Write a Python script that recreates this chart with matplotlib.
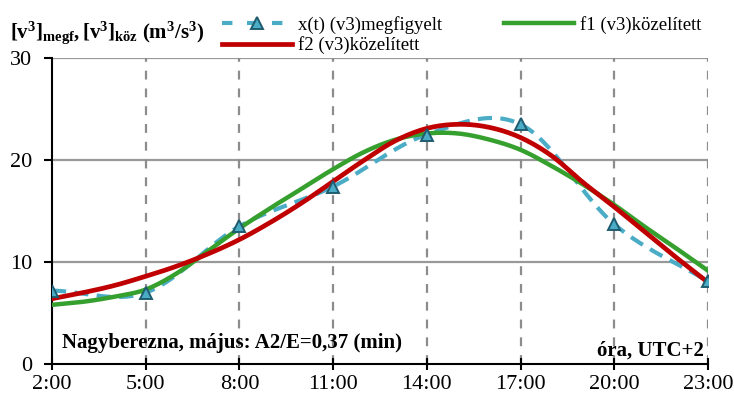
import numpy as np
import matplotlib
matplotlib.use("Agg")
import matplotlib.pyplot as plt

# adatok
ora_megf = [2, 5, 8, 11, 14, 17, 20, 23]
x_megf = [7.2, 7.0, 13.5, 17.4, 22.5, 23.5, 13.7, 8.1]

ora = list(range(2, 24))
f1 = [5.8, 6.1, 6.6, 7.3, 8.9, 11.1, 13.3, 15.3, 17.2, 19.1, 20.8, 22.0,
      22.6, 22.6, 22.0, 21.0, 19.4, 17.6, 15.6, 13.4, 11.3, 9.15]
f2 = [6.4, 7.0, 7.7, 8.6, 9.6, 10.8, 12.2, 13.9, 15.8, 17.9, 20.0, 21.9,
      23.1, 23.5, 23.2, 22.2, 20.4, 17.8, 15.4, 12.9, 10.4, 8.0]

tick_ora = [2, 5, 8, 11, 14, 17, 20, 23]
tick_cimke = ["2:00", "5:00", "8:00", "11:00", "14:00", "17:00", "20:00", "23:00"]


def simit(x, y, n=30):
    # Catmull-Rom gorbe, mint az Excel "simított vonal"
    x = np.asarray(x, float)
    y = np.asarray(y, float)
    px = np.concatenate([[2 * x[0] - x[1]], x, [2 * x[-1] - x[-2]]])
    py = np.concatenate([[2 * y[0] - y[1]], y, [2 * y[-1] - y[-2]]])
    xs, ys = [], []
    t = np.linspace(0, 1, n, endpoint=False)
    for i in range(1, len(px) - 2):
        for p, out in ((px, xs), (py, ys)):
            p0, p1, p2, p3 = p[i - 1], p[i], p[i + 1], p[i + 2]
            out.extend(0.5 * ((2 * p1) + (-p0 + p2) * t
                              + (2 * p0 - 5 * p1 + 4 * p2 - p3) * t ** 2
                              + (-p0 + 3 * p1 - 3 * p2 + p3) * t ** 3))
    xs.append(x[-1])
    ys.append(y[-1])
    return np.array(xs), np.array(ys)


plt.rcParams['font.family'] = ['Liberation Serif', 'DejaVu Serif']
plt.rcParams['mathtext.fontset'] = 'custom'
plt.rcParams['mathtext.rm'] = 'Liberation Serif'
plt.rcParams['mathtext.it'] = 'Liberation Serif:italic'
plt.rcParams['mathtext.bf'] = 'Liberation Serif:bold'

fig = plt.figure(figsize=(7.34, 3.96), dpi=100)
ax = fig.add_axes([0.0708, 0.0808, 0.8938, 0.7727])

kek = '#4BACC6'
piros = '#C00000'
zold = '#36A02F'

sx, sy = simit(ora_megf, x_megf)
ax.plot(sx, sy, color=kek, lw=3, dashes=(3.4, 2.0), zorder=3)
ax.plot(ora_megf, x_megf, ls='none', marker='^', ms=8, mfc=kek,
        mec='#1F5C70', mew=1.4, zorder=4)
h_x, = ax.plot([], [], color=kek, lw=3, dashes=(2.5, 3.5), marker='^', ms=8,
               mfc=kek, mec='#1F5C70', mew=1.4)
gx, gy = simit(ora, f1, 10)
h_f1, = ax.plot(gx, gy, color=zold, lw=3.2, zorder=3)
rx, ry = simit(ora, f2, 10)
h_f2, = ax.plot(rx, ry, color=piros, lw=3.4, zorder=3)

ax.set_xlim(2, 23)
ax.set_ylim(0, 30)
ax.set_xticks(tick_ora)
ax.set_xticklabels(tick_cimke)
ax.set_yticks([0, 10, 20, 30])
for v in [10, 20, 30]:
    ax.axhline(v, color='#999999', lw=1.6, zorder=1)
for t in tick_ora[1:]:
    ax.axvline(t, color='#8c8c8c', lw=1.6, dashes=(4, 4), zorder=1)

for s in ['top', 'right']:
    ax.spines[s].set_visible(False)
ax.spines['left'].set_linewidth(1.5)
ax.spines['bottom'].set_linewidth(1.5)
ax.tick_params(axis='y', direction='out', length=6, width=1.5, labelsize=16, pad=8)
ax.tick_params(axis='x', direction='inout', length=8, width=1.5, labelsize=16, pad=4)

ax.text(0.015, 0.035, "Nagyberezna, május: A2/E=0,37 (min)", transform=ax.transAxes,
        fontsize=15, fontweight='bold', ha='left', va='bottom')
ax.text(0.993, 0.012, "óra, UTC+2", transform=ax.transAxes,
        fontsize=15, fontweight='bold', ha='right', va='bottom')

fig.text(0.014, 0.918, r'$\mathbf{[v^3]_{megf}, [v^3]_{köz}\ (m^3/s^3)}$',
         fontsize=15, ha='left', va='center')

fig.legend([h_x, h_f2, h_f1],
           ["x(t) (v3)megfigyelt", "f2 (v3)közelített", "f1 (v3)közelített"],
           ncol=2, loc='upper left', bbox_to_anchor=(0.28, 1.003), frameon=False,
           fontsize=13.5, handlelength=3.7, columnspacing=3.3, labelspacing=0.15,
           handletextpad=0.35)

fig.savefig("out.png", dpi=100)
